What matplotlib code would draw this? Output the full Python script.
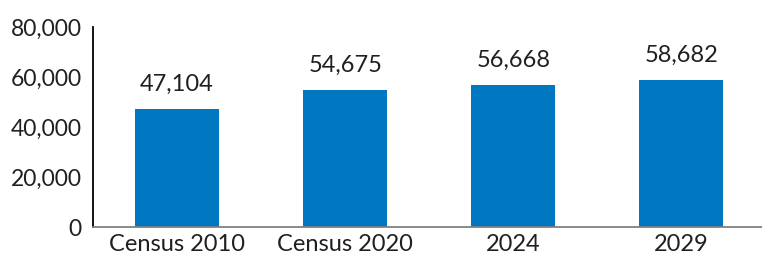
import matplotlib.pyplot as plt
from matplotlib.ticker import FuncFormatter

categories = ['Census 2010', 'Census 2020', '2024', '2029']
population = [47104, 54675, 56668, 58682]
y_ticks = [0, 20000, 40000, 60000, 80000]

plt.rcParams['font.family'] = ['Lato', 'DejaVu Sans']

fig = plt.figure(figsize=(7.62, 2.59), dpi=100)
ax = fig.add_axes([93 / 762, 32 / 259, 669 / 762, 200 / 259])

x = range(len(categories))
bars = ax.bar(x, population, width=0.5, color='#0078c1')

for xi, v in zip(x, population):
    ax.annotate('{:,}'.format(v), (xi, v), xytext=(0, 13), textcoords='offset points',
                ha='center', va='baseline', fontsize=17, color='#231f20')

ax.set_xlim(-0.5, 3.48)
ax.set_ylim(0, 80000)
ax.set_yticks(y_ticks)
ax.yaxis.set_major_formatter(FuncFormatter(lambda v, p: '{:,}'.format(int(v))))
ax.set_xticks(list(x))
ax.set_xticklabels(categories)

ax.tick_params(axis='both', length=0, labelcolor='#231f20')
ax.tick_params(axis='y', pad=8, labelsize=16.5)
ax.tick_params(axis='x', pad=5, labelsize=17)

ax.spines['top'].set_visible(False)
ax.spines['right'].set_visible(False)
ax.spines['left'].set_color('black')
ax.spines['left'].set_linewidth(1.3)
ax.spines['bottom'].set_color('#808080')
ax.spines['bottom'].set_linewidth(1.3)

fig.savefig('out.png', dpi=100)
